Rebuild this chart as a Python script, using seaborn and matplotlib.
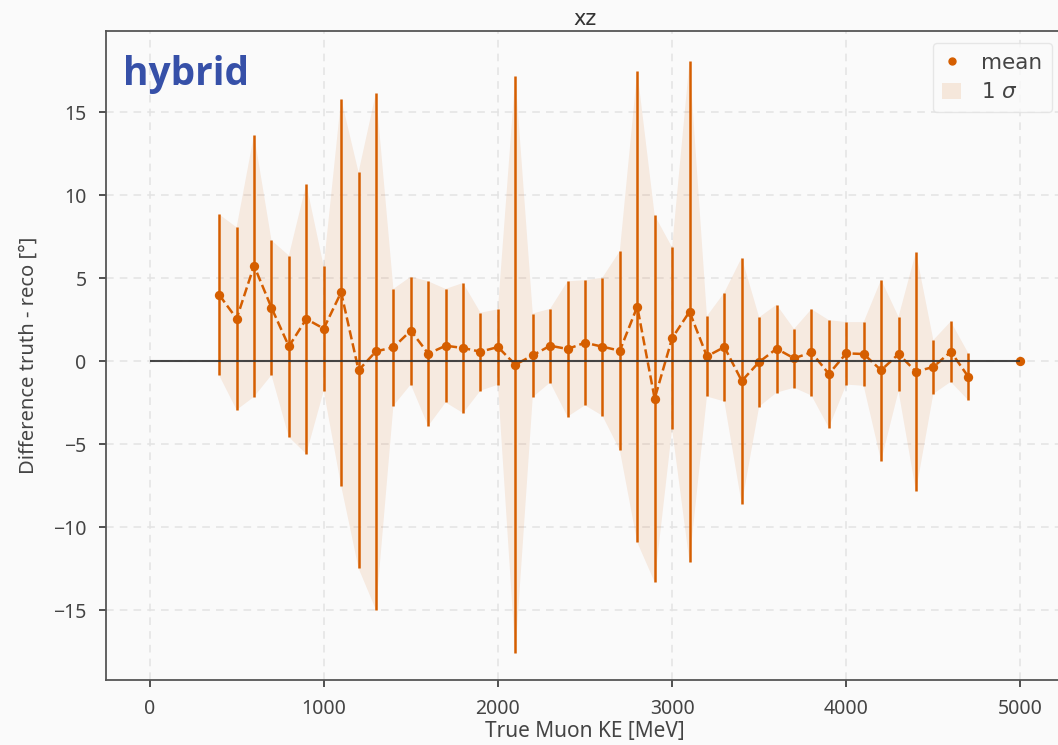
import numpy as np
import pandas as pd
import matplotlib
matplotlib.use("Agg")
import matplotlib.pyplot as plt
import seaborn as sns
from matplotlib.patches import Patch
from matplotlib.lines import Line2D

# ---- data ----
energy = [400, 500, 600, 700, 800, 900, 1000, 1100, 1200, 1300, 1400, 1500, 1600, 1700,
          1800, 1900, 2000, 2100, 2200, 2300, 2400, 2500, 2600, 2700, 2800, 2900, 3000,
          3100, 3200, 3300, 3400, 3500, 3600, 3700, 3800, 3900, 4000, 4100, 4200, 4300,
          4400, 4500, 4600, 4700, 4800, 4900, 5000]
mean = [4.0, 2.57, 5.76, 3.23, 0.9, 2.55, 1.97, 4.16, -0.54, 0.6, 0.84, 1.85, 0.46, 0.94,
        0.8, 0.58, 0.86, -0.2, 0.36, 0.94, 0.74, 1.12, 0.88, 0.64, 3.29, -2.25, 1.39,
        2.99, 0.3, 0.86, -1.18, -0.04, 0.76, 0.18, 0.54, -0.76, 0.48, 0.44, -0.54, 0.44,
        -0.62, -0.34, 0.58, -0.92, np.nan, np.nan, 0.0]
sigma = [4.85, 5.5, 7.9, 4.06, 5.47, 8.13, 3.75, 11.66, 11.93, 15.58, 3.52, 3.25, 4.36, 3.42,
         3.92, 2.35, 2.27, 17.4, 2.52, 2.22, 4.08, 3.77, 4.16, 6.0, 14.2, 11.05, 5.48,
         15.08, 2.42, 3.28, 7.43, 2.69, 2.65, 1.77, 2.6, 3.24, 1.88, 1.92, 5.46, 2.24,
         7.21, 1.62, 1.82, 1.42, np.nan, np.nan, 0.0]
title = "xz"
xlabel = "True Muon KE [MeV]"
ylabel = "Difference truth - reco [°]"
tag = "hybrid"

df = pd.DataFrame({"energy": energy, "mean": mean, "sigma": sigma})
df["lo"] = df["mean"] - df["sigma"]
df["hi"] = df["mean"] + df["sigma"]

# ---- style ----
bg = "#fafafa"
orange = "#d55e00"
sns.set_theme(style="whitegrid")
plt.rcParams["font.family"] = ["Noto Sans", "DejaVu Sans"]
plt.rcParams.update({
    "figure.facecolor": bg, "axes.facecolor": bg, "savefig.facecolor": bg,
    "axes.edgecolor": "#555555", "axes.linewidth": 1.3,
    "grid.color": "#e3e3e3", "grid.linestyle": (0, (5, 4)), "grid.linewidth": 1.1,
    "xtick.color": "#333333", "ytick.color": "#333333",
    "xtick.labelcolor": "#444444", "ytick.labelcolor": "#444444",
    "axes.labelcolor": "#444444",
})

fig = plt.figure(figsize=(10.58, 7.45), dpi=100)
ax = fig.add_axes([106 / 1058, 65 / 745, 958 / 1058, 649 / 745])

ax.fill_between(df["energy"], df["lo"], df["hi"], color=orange, alpha=0.1, linewidth=0, zorder=1)
ax.errorbar(df["energy"], df["mean"], yerr=df["sigma"], fmt="none", ecolor=orange,
            elinewidth=1.8, capsize=0, zorder=2)
ax.plot(df["energy"], df["mean"], linestyle="--", color=orange, linewidth=1.8, zorder=3)
sns.scatterplot(data=df, x="energy", y="mean", color=orange, s=45, edgecolor=orange,
                linewidth=0, ax=ax, zorder=4)
ax.hlines(0, 0, 5000, color="#333333", linewidth=1.5, alpha=0.9, zorder=5)

ax.set_xticks([0, 1000, 2000, 3000, 4000, 5000])
ax.set_yticks([-15, -10, -5, 0, 5, 10, 15])
ax.set_xlim(-250, 5250)
ax.set_ylim(-19.2, 19.9)
ax.tick_params(axis="both", which="major", length=5, width=1.2, direction="out",
               labelsize=14, pad=9, bottom=True, left=True)
for s in ["left", "bottom", "top", "right"]:
    ax.spines[s].set_visible(True)

ax.set_title(title, fontsize=15, color="#333333", pad=4, family="DejaVu Sans")
ax.set_xlabel(xlabel, fontsize=15, labelpad=1)
ax.set_ylabel(ylabel, fontsize=14.5, labelpad=10)

ax.text(0.018, 1 - (85 - 31) / 649, tag, transform=ax.transAxes, fontsize=28,
        fontweight="bold", color="#3650a8", va="baseline", ha="left",
        family=["Open Sans", "Noto Sans"])

handles = [Line2D([], [], marker="o", linestyle="none", color=orange, markersize=5),
           Patch(facecolor=orange, alpha=0.12, edgecolor="none")]
leg = ax.legend(handles, ["mean", r"1 $\sigma$"], loc="upper right",
                bbox_to_anchor=((1052 - 106) / 958, 1 - (43 - 31) / 649),
                borderaxespad=0,
                prop={"family": "DejaVu Sans", "size": 15.5}, frameon=True,
                handlelength=0.85, handleheight=0.8, handletextpad=0.95,
                borderpad=0.45, labelspacing=0.45)
leg.get_frame().set_facecolor(bg)
leg.get_frame().set_edgecolor("#e2e2e2")
for t in leg.get_texts():
    t.set_color("#444444")

fig.savefig("out.png", dpi=100)
